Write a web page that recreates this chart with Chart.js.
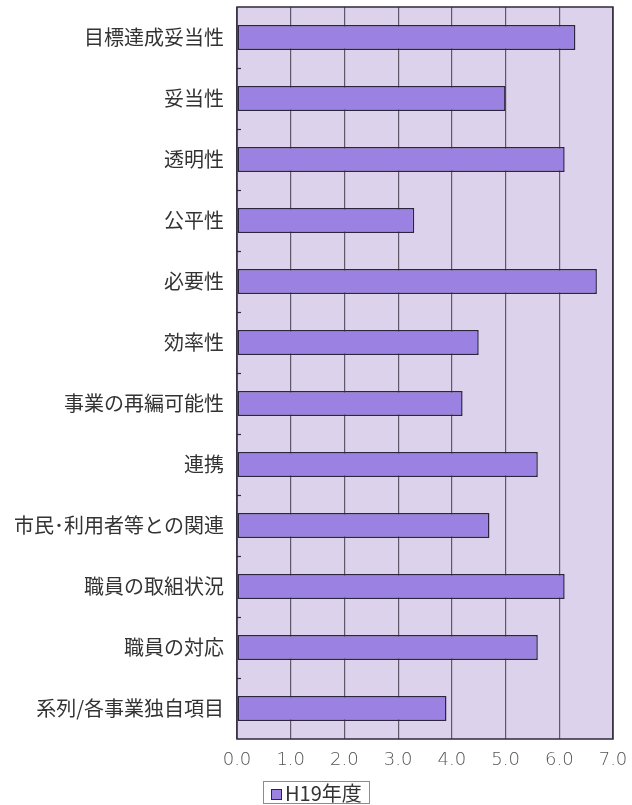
<!DOCTYPE html>
<html lang="ja">
<head>
<meta charset="utf-8">
<title>評価項目別平均点</title>
<script src="https://cdn.jsdelivr.net/npm/chart.js@4.4.1/dist/chart.umd.min.js"></script>
<style>
  html, body { margin: 0; padding: 0; background: #ffffff; }
  #wrap { position: relative; width: 632px; height: 805px; }
  #legend {
    position: absolute; left: 263px; top: 781px; width: 107px; height: 23px;
    border: 1px solid #8c8c8c; background: #ffffff; box-sizing: border-box;
    font-family: "Noto Sans CJK JP", sans-serif; font-size: 20px; color: #333333;
    line-height: 21px; white-space: nowrap;
  }
  #legend .sw {
    display: inline-block; width: 9px; height: 9px; margin: 0 3px 0 7px;
    border: 1px solid #2b2540; background: #9b82e2; vertical-align: 1px;
  }
</style>
</head>
<body>
<div id="wrap">
  <canvas id="chart" width="632" height="805"></canvas>
  <div id="legend"><span class="sw"></span>H19年度</div>
</div>
<script>
// 評価項目
const categories = [
  "目標達成妥当性", "妥当性", "透明性", "公平性", "必要性", "効率性",
  "事業の再編可能性", "連携", "市民･利用者等との関連", "職員の取組状況",
  "職員の対応", "系列/各事業独自項目"
];
// H19年度 平均点
const seriesName = "H19年度";
const values = [6.3, 5.0, 6.1, 3.3, 6.7, 4.5, 4.2, 5.6, 4.7, 6.1, 5.6, 3.9];
// 横軸目盛
const axisMin = 0;
const axisMax = 7;
const axisStep = 1;

const plotBg = "#ddd2ec";
const barFill = "#9b82e2";
const barEdge = "#2b2540";

// 描画領域の背景・外枠・左軸の区切り目盛
const framePlugin = {
  id: "frame",
  beforeDraw(chart) {
    const { ctx, chartArea: a } = chart;
    ctx.save();
    ctx.fillStyle = plotBg;
    ctx.fillRect(a.left, a.top, a.right - a.left, a.bottom - a.top);
    ctx.restore();
  },
  afterDraw(chart) {
    const { ctx, chartArea: a } = chart;
    const y = chart.scales.y;
    ctx.save();
    ctx.strokeStyle = "#2e2a38";
    ctx.lineWidth = 1.5;
    ctx.strokeRect(a.left, a.top, a.right - a.left, a.bottom - a.top);
    ctx.lineWidth = 1.2;
    for (let i = 0; i < categories.length - 1; i++) {
      const yy = Math.round((y.getPixelForValue(i) + y.getPixelForValue(i + 1)) / 2) + 0.5;
      ctx.beginPath();
      ctx.moveTo(a.left, yy);
      ctx.lineTo(a.left + 4, yy);
      ctx.stroke();
    }
    ctx.restore();
  }
};

new Chart(document.getElementById("chart"), {
  type: "bar",
  data: {
    labels: categories,
    datasets: [{
      label: seriesName,
      data: values,
      backgroundColor: barFill,
      borderColor: barEdge,
      borderWidth: 1.5,
      borderSkipped: false,
      barPercentage: 0.41,
      categoryPercentage: 1.0
    }]
  },
  options: {
    indexAxis: "y",
    responsive: false,
    animation: false,
    layout: { padding: { top: 7, right: 19, bottom: 30, left: 0 } },
    plugins: {
      legend: { display: false },
      tooltip: { enabled: false }
    },
    scales: {
      x: {
        min: axisMin,
        max: axisMax,
        afterFit(scale) {
          scale.height = 36;
          scale.paddingLeft = 0;
          scale.paddingRight = 0;
        },
        grid: { color: "#5d586a", lineWidth: 1.2, drawTicks: false },
        border: { display: false },
        ticks: {
          stepSize: axisStep,
          padding: 11,
          color: "#555555",
          font: { family: "DejaVu Sans", size: 18, weight: 200 },
          callback: (v) => Number(v).toFixed(1)
        }
      },
      y: {
        afterFit(scale) {
          scale.width = 237;
          scale.paddingTop = 0;
          scale.paddingBottom = 0;
        },
        grid: { display: false },
        border: { display: false },
        ticks: {
          padding: 5,
          color: "#333333",
          font: { family: "Noto Sans CJK JP", size: 20 }
        }
      }
    }
  },
  plugins: [framePlugin]
});
</script>
</body>
</html>
